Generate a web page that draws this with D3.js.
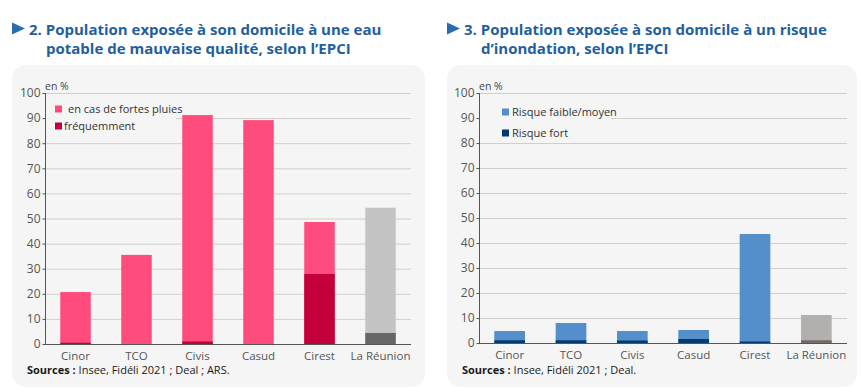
<!DOCTYPE html>
<html>
<head>
<meta charset="utf-8">
<script src="https://cdn.jsdelivr.net/npm/d3@7"></script>
<style>
  body { margin: 0; background: #fff; font-family: "Open Sans", sans-serif; }
  svg { display: block; }
</style>
</head>
<body>
<svg id="chart" width="861" height="392"></svg>
<script>
// categories
var epci = ["Cinor", "TCO", "Civis", "Casud", "Cirest", "La Réunion"]
var yTicks = [0, 10, 20, 30, 40, 50, 60, 70, 80, 90, 100]

// chart 2 : eau potable
var eauTitle = ["2. Population exposée à son domicile à une eau", "potable de mauvaise qualité, selon l’EPCI"]
var eauFortesPluies = [20.7, 35.5, 91.2, 89.2, 48.6, 54.3]
var eauFrequemment = [0.5, 0, 1, 0, 27.9, 4.4]
var eauLegend = ["en cas de fortes pluies", "fréquemment"]
var eauSource = "Insee, Fidéli 2021 ; Deal ; ARS."

// chart 3 : inondation
var inoTitle = ["3. Population exposée à son domicile à un risque", "d’inondation, selon l’EPCI"]
var inoFaibleMoyen = [4.8, 8.0, 4.8, 5.2, 43.6, 11.2]
var inoFort = [1.1, 1.1, 1.0, 1.6, 0.6, 1.1]
var inoLegend = ["Risque faible/moyen", "Risque fort"]
var inoSource = "Insee, Fidéli 2021 ; Deal."

var svg = d3.select("#chart")

function drawPanel(opt) {
  var g = svg.append("g").attr("transform", "translate(" + opt.x + ",0)")

  // title
  g.append("path")
    .attr("d", "M0,22.5 L13,28.5 L0,34.5 Z")
    .attr("fill", "#2a6cb0")
  g.append("text")
    .attr("x", 17).attr("y", 34.5)
    .attr("fill", "#1f5f9e").attr("font-weight", "bold").attr("font-size", 15)
    .text(opt.title[0])
  g.append("text")
    .attr("x", 34).attr("y", 53.5)
    .attr("fill", "#1f5f9e").attr("font-weight", "bold").attr("font-size", 15)
    .text(opt.title[1])

  // background card
  g.append("rect")
    .attr("x", 0).attr("y", 65)
    .attr("width", opt.w).attr("height", 322)
    .attr("rx", 14)
    .attr("fill", "#f5f5f5")

  var left = opt.axisX, right = opt.axisX + opt.plotW
  var x = d3.scaleBand().domain(epci).range([left, right]).paddingInner(0.5).paddingOuter(0.25)
  var y = d3.scaleLinear().domain([0, 100]).range([opt.y0, 93])

  // grid
  g.append("g").selectAll("line").data(yTicks.slice(1)).join("line")
    .attr("x1", left).attr("x2", right)
    .attr("y1", function(d) { return y(d) + 0.5 }).attr("y2", function(d) { return y(d) + 0.5 })
    .attr("stroke", "#cfcfcf")

  // legend box hides grid
  g.append("rect")
    .attr("x", left + 1).attr("y", opt.legBox[1])
    .attr("width", opt.legBox[0]).attr("height", opt.legBox[2])
    .attr("fill", "#f5f5f5")

  // bars
  var bars = g.append("g")
  epci.forEach(function(c, i) {
    var last = i == epci.length - 1
    bars.append("rect")
      .attr("x", x(c)).attr("width", x.bandwidth())
      .attr("y", y(opt.top[i])).attr("height", y(0) - y(opt.top[i]))
      .attr("fill", last ? opt.colors[2] : opt.colors[0])
    if (opt.bottom[i] > 0) {
      bars.append("rect")
        .attr("x", x(c)).attr("width", x.bandwidth())
        .attr("y", y(opt.bottom[i])).attr("height", y(0) - y(opt.bottom[i]))
        .attr("fill", last ? opt.colors[3] : opt.colors[1])
    }
  })

  // axes
  var yAxis = g.append("g")
    .attr("transform", "translate(" + (left + 0.5) + ",0)")
    .call(d3.axisLeft(y).tickValues(yTicks).tickSize(3).tickPadding(2))
  yAxis.select(".domain").attr("stroke", "#555").attr("d", "M0," + y(100) + "V" + (y(0) + 0.5))
  yAxis.selectAll(".tick line").attr("stroke", "#555")
  yAxis.selectAll("text").attr("fill", "#555").attr("font-size", 12).attr("font-family", "Open Sans")

  var xAxis = g.append("g")
    .attr("transform", "translate(0," + (y(0) + 0.5) + ")")
    .call(d3.axisBottom(x).tickSize(0).tickPadding(7))
  xAxis.select(".domain").attr("stroke", "#555").attr("d", "M" + left + ",0H" + right)
  xAxis.selectAll("text").attr("fill", "#555").attr("font-size", 11.5).attr("font-family", "Open Sans")

  g.append("text")
    .attr("x", left).attr("y", 90)
    .attr("font-size", 10.5).attr("fill", "#444")
    .text("en %")

  // legend
  opt.legend.forEach(function(l, i) {
    var ly = opt.legY[i]
    g.append("rect")
      .attr("x", opt.legX).attr("y", ly - 3.5).attr("width", 7).attr("height", 7)
      .attr("fill", opt.colors[i])
    g.append("text")
      .attr("x", opt.legX + opt.legGap[i]).attr("y", ly + 4)
      .attr("font-size", 11).attr("fill", "#333")
      .text(l)
  })

  // source
  var s = g.append("text")
    .attr("x", 15).attr("y", 374)
    .attr("font-size", 11).attr("fill", "#1a1a1a")
  s.append("tspan").attr("font-weight", "bold").text("Sources : ")
  s.append("tspan").text(opt.source)
}

drawPanel({
  x: 12, w: 413, axisX: 33, plotW: 366, y0: 344,
  title: eauTitle, top: eauFortesPluies, bottom: eauFrequemment,
  colors: ["#ff4c7c", "#c4003b", "#c4c4c4", "#676767"],
  legend: eauLegend, legX: 43, legY: [109, 126], legGap: [13, 9],
  legBox: [130, 98, 36], source: eauSource
})

drawPanel({
  x: 447, w: 410, axisX: 32, plotW: 368, y0: 343,
  title: inoTitle, top: inoFaibleMoyen, bottom: inoFort,
  colors: ["#548fcb", "#003c71", "#b3afac", "#6e6b6a"],
  legend: inoLegend, legX: 55, legY: [112, 133], legGap: [10, 10],
  legBox: [131, 100, 42], source: inoSource
})
</script>
</body>
</html>
